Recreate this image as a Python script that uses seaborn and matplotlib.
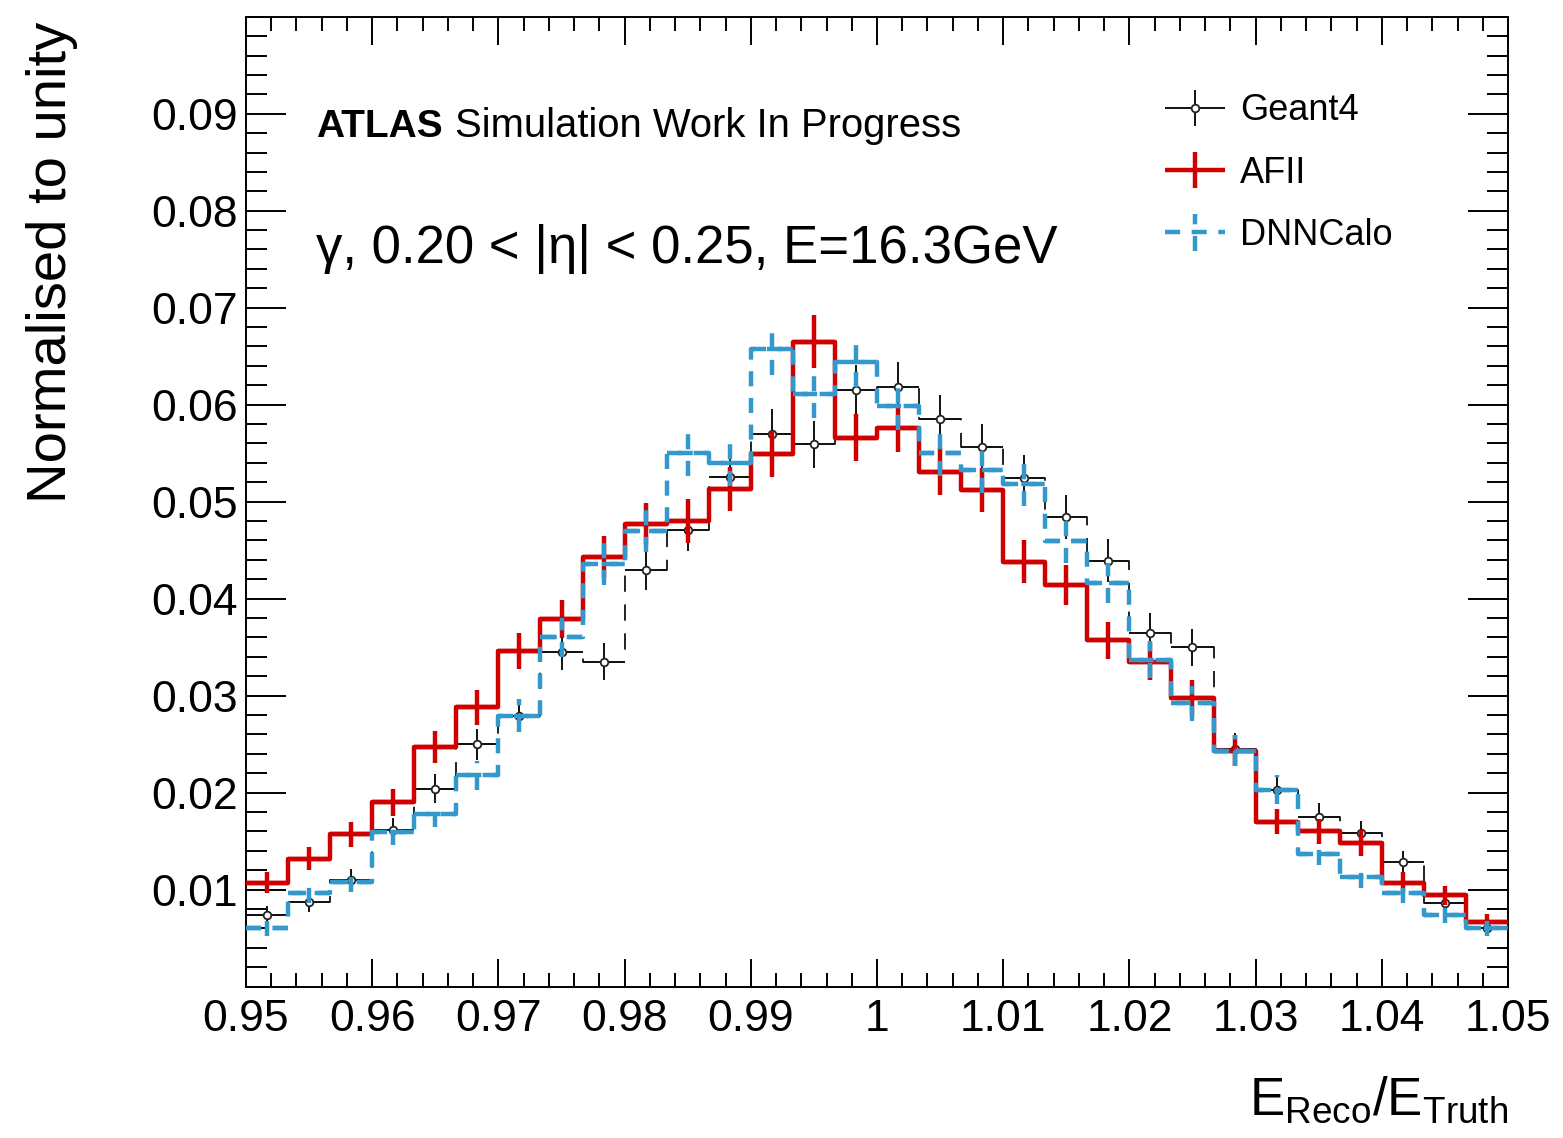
import numpy as np
import pandas as pd
import matplotlib
matplotlib.use("Agg")
import matplotlib.pyplot as plt
import seaborn as sns
from matplotlib.ticker import FixedLocator, MultipleLocator, NullFormatter
from matplotlib.container import ErrorbarContainer
from matplotlib.legend_handler import HandlerErrorbar

# Binning of the E_Reco/E_Truth response
x_low, x_high, n_bins = 0.95, 1.05, 30

# Normalised bin contents (30 bins, 0.95 -> 1.05)
geant4 = [0.0074, 0.0087, 0.0110, 0.0161, 0.0204, 0.0250, 0.0279, 0.0345, 0.0335, 0.0430,
          0.0471, 0.0525, 0.0570, 0.0559, 0.0615, 0.0618, 0.0585, 0.0556, 0.0524, 0.0484,
          0.0439, 0.0365, 0.0350, 0.0245, 0.0203, 0.0175, 0.0158, 0.0128, 0.0086, 0.0060]
afii = [0.0107, 0.0132, 0.0157, 0.0190, 0.0247, 0.0288, 0.0346, 0.0379, 0.0443, 0.0477,
        0.0480, 0.0513, 0.0549, 0.0665, 0.0566, 0.0576, 0.0531, 0.0512, 0.0438, 0.0414,
        0.0357, 0.0335, 0.0298, 0.0243, 0.0170, 0.0160, 0.0148, 0.0107, 0.0094, 0.0067]
dnncalo = [0.0060, 0.0096, 0.0108, 0.0159, 0.0178, 0.0218, 0.0279, 0.0360, 0.0436, 0.0470,
           0.0550, 0.0540, 0.0657, 0.0611, 0.0644, 0.0599, 0.0550, 0.0533, 0.0518, 0.0459,
           0.0416, 0.0337, 0.0292, 0.0243, 0.0203, 0.0137, 0.0113, 0.0096, 0.0074, 0.0060]

# Statistical uncertainties per bin
geant4_err = [0.0009, 0.0010, 0.0011, 0.0013, 0.0015, 0.0016, 0.0017, 0.0019, 0.0019, 0.0021,
              0.0022, 0.0024, 0.0025, 0.0024, 0.0026, 0.0026, 0.0025, 0.0024, 0.0024, 0.0023,
              0.0022, 0.0020, 0.0019, 0.0016, 0.0015, 0.0014, 0.0013, 0.0012, 0.0010, 0.0008]
afii_err = [0.0011, 0.0012, 0.0013, 0.0014, 0.0016, 0.0018, 0.0019, 0.0020, 0.0022, 0.0022,
            0.0023, 0.0023, 0.0024, 0.0027, 0.0024, 0.0025, 0.0024, 0.0023, 0.0022, 0.0021,
            0.0019, 0.0019, 0.0018, 0.0016, 0.0013, 0.0013, 0.0013, 0.0011, 0.0010, 0.0008]
dnncalo_err = [0.0008, 0.0010, 0.0011, 0.0013, 0.0014, 0.0015, 0.0017, 0.0020, 0.0022, 0.0022,
               0.0024, 0.0024, 0.0026, 0.0025, 0.0026, 0.0025, 0.0024, 0.0024, 0.0023, 0.0022,
               0.0021, 0.0019, 0.0018, 0.0016, 0.0015, 0.0012, 0.0011, 0.0010, 0.0009, 0.0008]

series_names = ["Geant4", "AFII", "DNNCalo"]

x_tick_labels = ["0.95", "0.96", "0.97", "0.98", "0.99", "1",
                 "1.01", "1.02", "1.03", "1.04", "1.05"]
y_tick_labels = ["0.01", "0.02", "0.03", "0.04", "0.05", "0.06", "0.07", "0.08", "0.09"]

sns.set_style("ticks")
plt.rcParams["font.family"] = ["Liberation Sans", "DejaVu Sans"]
plt.rcParams["mathtext.fontset"] = "custom"
plt.rcParams["mathtext.rm"] = "Liberation Sans"
plt.rcParams["mathtext.it"] = "Liberation Sans:italic"
for key in ["text.color", "axes.labelcolor", "xtick.color", "ytick.color", "axes.edgecolor"]:
    plt.rcParams[key] = "black"

edges = np.linspace(x_low, x_high, n_bins + 1)
centers = 0.5 * (edges[:-1] + edges[1:])
half_width = 0.5 * (edges[1] - edges[0])

fig = plt.figure(figsize=(15.63, 11.38), dpi=100)
ax = fig.add_axes([0.1574, 0.1331, 0.8074, 0.8522])

styles = {
    "Geant4": dict(color="#111111", lw=1.3, ls=(0, (9, 7)), elw=1.4, els="solid", z=3),
    "AFII": dict(color="#d00000", lw=3.2, ls="solid", elw=3.2, els="solid", z=4),
    "DNNCalo": dict(color="#3399cc", lw=3.2, ls=(0, (3.4, 2.6)), elw=3.2, els=(0, (3.4, 2.6)), z=5),
}
values = {"Geant4": geant4, "AFII": afii, "DNNCalo": dnncalo}
errors = {"Geant4": geant4_err, "AFII": afii_err, "DNNCalo": dnncalo_err}

handles = []
for name in series_names:
    st = styles[name]
    df = pd.DataFrame({"ratio": centers, "weight": values[name]})
    sns.histplot(data=df, x="ratio", weights="weight", bins=list(edges), element="step",
                 fill=False, color=st["color"], linewidth=st["lw"], linestyle=st["ls"],
                 ax=ax, zorder=st["z"])
    if name == "Geant4":
        eb = ax.errorbar(centers, values[name], xerr=half_width, yerr=errors[name],
                         fmt="o", ms=5.5, mfc="white", mec="#222222", mew=1.3,
                         ecolor=st["color"], elinewidth=st["elw"], capsize=0,
                         zorder=st["z"] + 0.5, label=name)
    else:
        eb = ax.errorbar(centers, values[name], xerr=half_width, yerr=errors[name],
                         fmt="none", ecolor=st["color"], elinewidth=st["elw"], capsize=0,
                         zorder=st["z"] + 0.5, label=name)
    for coll in eb[2]:
        coll.set_linestyle(st["els"])
    handles.append(eb)

ax.set_xlim(x_low, x_high)
ax.set_ylim(0, 0.1)
ax.set_xlabel("")
ax.set_ylabel("")

ax.xaxis.set_major_locator(FixedLocator([float(t) for t in x_tick_labels]))
ax.set_xticklabels(x_tick_labels)
ax.xaxis.set_minor_locator(MultipleLocator(0.002))
ax.yaxis.set_major_locator(FixedLocator([float(t) for t in y_tick_labels]))
ax.set_yticklabels(y_tick_labels)
ax.yaxis.set_minor_locator(MultipleLocator(0.002))
ax.xaxis.set_minor_formatter(NullFormatter())
ax.yaxis.set_minor_formatter(NullFormatter())

ax.tick_params(which="both", direction="in", top=True, right=True, width=1.4, colors="black")
ax.tick_params(axis="x", which="major", length=20, labelsize=32, pad=9)
ax.tick_params(axis="x", which="minor", length=10)
ax.tick_params(axis="y", which="major", length=29, labelsize=32, pad=6)
ax.tick_params(axis="y", which="minor", length=15)
for sp in ax.spines.values():
    sp.set_linewidth(1.4)
    sp.set_color("black")
    sp.set_visible(True)

# Legend
ax.legend(handles=handles, labels=series_names, loc="upper left",
          bbox_to_anchor=(0.717, 0.936), frameon=False, fontsize=26,
          handlelength=1.66, handletextpad=0.42, labelspacing=0.76, borderaxespad=0,
          handler_map={ErrorbarContainer: HandlerErrorbar(xerr_size=0.83, yerr_size=0.5)})

# Annotations
atlas = ax.text(0.0555, 0.876, "ATLAS", transform=ax.transAxes, fontsize=28,
                fontweight="bold", va="baseline", ha="left")
fig.canvas.draw()
renderer = fig.canvas.get_renderer()
bb = atlas.get_window_extent(renderer=renderer)
x_right = ax.transAxes.inverted().transform((bb.x1, bb.y0))[0]
ax.text(x_right + 0.010, 0.876, "Simulation Work In Progress", transform=ax.transAxes,
        fontsize=28.8, va="baseline", ha="left")
ax.text(0.0555, 0.746, "γ, 0.20 < |η| < 0.25, E=16.3GeV", transform=ax.transAxes,
        fontsize=38, va="baseline", ha="left")

fig.text(52 / 1563, 1 - 262 / 1138, "Normalised to unity", rotation=90,
         fontsize=40.5, ha="center", va="center")
fig.text(1508 / 1563, 1 - 1115 / 1138, r"$\mathregular{E_{Reco}/E_{Truth}}$",
         fontsize=38, ha="right", va="baseline")

fig.savefig("out.png", dpi=100)
